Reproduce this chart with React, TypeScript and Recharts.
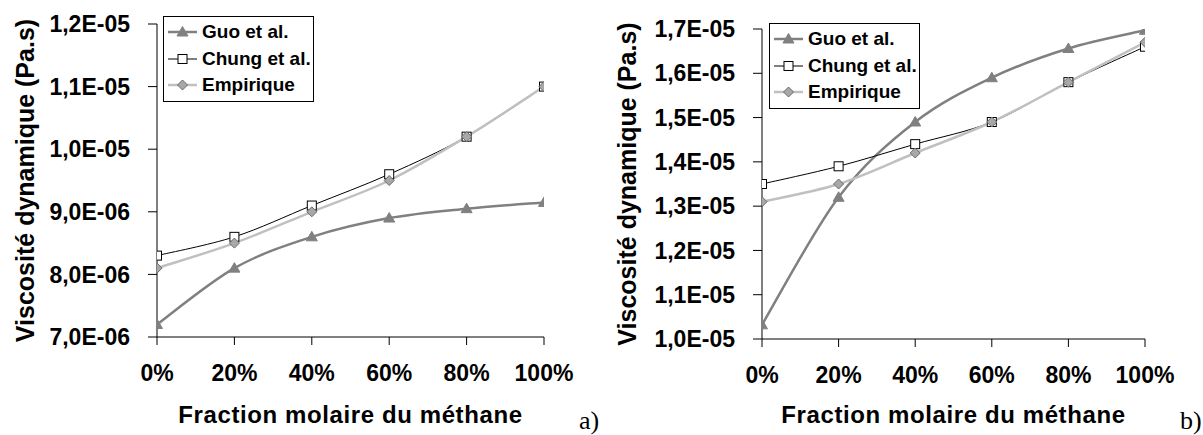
import React from "react";
import { LineChart, Line, XAxis, YAxis, Legend, Label } from "recharts";

// fraction molaire du méthane (%)
const fractions = [0, 20, 40, 60, 80, 100];

// a)
const guoA = [7.2e-6, 8.1e-6, 8.6e-6, 8.9e-6, 9.05e-6, 9.15e-6];
const chungA = [8.3e-6, 8.6e-6, 9.1e-6, 9.6e-6, 1.02e-5, 1.1e-5];
const empA = [8.1e-6, 8.5e-6, 9.0e-6, 9.5e-6, 1.02e-5, 1.1e-5];
const yTicksA = [7e-6, 8e-6, 9e-6, 1e-5, 1.1e-5, 1.2e-5];

// b)
const guoB = [1.032e-5, 1.32e-5, 1.49e-5, 1.59e-5, 1.656e-5, 1.697e-5];
const chungB = [1.35e-5, 1.39e-5, 1.44e-5, 1.49e-5, 1.58e-5, 1.66e-5];
const empB = [1.31e-5, 1.35e-5, 1.42e-5, 1.49e-5, 1.58e-5, 1.67e-5];
const yTicksB = [1e-5, 1.1e-5, 1.2e-5, 1.3e-5, 1.4e-5, 1.5e-5, 1.6e-5, 1.7e-5];

const FONT = "'Liberation Sans', Arial, sans-serif";

const fmtSci = (v: number) => {
  const [m, e] = v.toExponential(1).split("e");
  const exp = parseInt(e, 10);
  return `${m.replace(".", ",")}E${exp < 0 ? "-" : "+"}${String(Math.abs(exp)).padStart(2, "0")}`;
};

// Excel-like smoothed line (catmull-rom / cardinal, tension 0)
const excelSmooth = (context: any) => {
  let pts: number[][] = [];
  return {
    areaStart() {},
    areaEnd() {},
    lineStart() {
      pts = [];
    },
    point(x: number, y: number) {
      pts.push([+x, +y]);
    },
    lineEnd() {
      const n = pts.length;
      if (!n) return;
      context.moveTo(pts[0][0], pts[0][1]);
      for (let i = 0; i < n - 1; i++) {
        const p0 = pts[i - 1] || pts[i];
        const p1 = pts[i];
        const p2 = pts[i + 1];
        const p3 = pts[i + 2] || p2;
        context.bezierCurveTo(
          p1[0] + (p2[0] - p0[0]) / 6,
          p1[1] + (p2[1] - p0[1]) / 6,
          p2[0] - (p3[0] - p1[0]) / 6,
          p2[1] - (p3[1] - p1[1]) / 6,
          p2[0],
          p2[1]
        );
      }
    },
  };
};

type Marker = "triangle" | "square" | "diamond";

const series: { key: string; name: string; stroke: string; width: number; marker: Marker }[] = [
  { key: "guo", name: "Guo et al.", stroke: "#808080", width: 2.5, marker: "triangle" },
  { key: "chung", name: "Chung et al.", stroke: "#000000", width: 1, marker: "square" },
  { key: "emp", name: "Empirique", stroke: "#c0c0c0", width: 2.5, marker: "diamond" },
];

const drawMarker = (marker: Marker, cx: number, cy: number, key?: any) => {
  if (marker === "triangle") {
    return (
      <polygon
        key={key}
        points={`${cx},${cy - 5.5} ${cx + 5.5},${cy + 4} ${cx - 5.5},${cy + 4}`}
        fill="#808080"
        stroke="#808080"
      />
    );
  }
  if (marker === "square") {
    return <rect key={key} x={cx - 4.5} y={cy - 4.5} width={9} height={9} fill="#fff" stroke="#000" strokeWidth={1} />;
  }
  return (
    <polygon
      key={key}
      points={`${cx},${cy - 5} ${cx + 5},${cy} ${cx},${cy + 5} ${cx - 5},${cy}`}
      fill="#a8a8a8"
      stroke="#6a6a6a"
      strokeWidth={1}
    />
  );
};

// legend keeps the series order (Guo, Chung, Empirique)
const LegendBox = () => (
  <div
    style={{
      border: "1px solid #000",
      background: "#fff",
      padding: "2px 3px 2px 4px",
      fontFamily: FONT,
      fontWeight: "bold",
      fontSize: 19,
      width: 142,
      textAlign: "left",
    }}
  >
    {series.map((s) => (
      <div key={s.key} style={{ display: "flex", alignItems: "center", height: 26.5 }}>
        <svg width={29} height={14} style={{ marginRight: 5, flexShrink: 0 }}>
          <line x1={0} y1={7} x2={29} y2={7} stroke={s.stroke} strokeWidth={s.width} />
          {drawMarker(s.marker, 14.5, 7)}
        </svg>
        <span style={{ color: "#000", whiteSpace: "nowrap" }}>{s.name}</span>
      </div>
    ))}
  </div>
);

type PanelProps = {
  guo: number[];
  chung: number[];
  emp: number[];
  yTicks: number[];
  width: number;
  yAxisWidth: number;
  top: number;
  right: number;
  xAxisHeight: number;
  legendPos: { left: number; top: number };
  titleX: number;
};

const Panel = (p: PanelProps) => {
  const data = fractions.map((x, i) => ({ x, guo: p.guo[i], chung: p.chung[i], emp: p.emp[i] }));
  const tickStyle = { fontFamily: FONT, fontWeight: "bold", fontSize: 23, fill: "#000" } as any;
  return (
    <LineChart
      width={p.width}
      height={435}
      data={data}
      margin={{ top: p.top, right: p.right, bottom: 0, left: 0 }}
    >
      <XAxis
        dataKey="x"
        type="number"
        domain={[0, 100]}
        ticks={fractions}
        tickFormatter={(v: number) => `${v}%`}
        height={p.xAxisHeight}
        stroke="#000"
        tickSize={8}
        tickMargin={20}
        tick={tickStyle}
        allowDataOverflow
      >
        <Label
          value="Fraction molaire du méthane"
          position="insideBottom"
          offset={12}
          style={{ fontFamily: FONT, fontWeight: "bold", fontSize: 24, fill: "#000", letterSpacing: 0.6 }}
        />
      </XAxis>
      <YAxis
        type="number"
        domain={[p.yTicks[0], p.yTicks[p.yTicks.length - 1]]}
        ticks={p.yTicks}
        tickFormatter={fmtSci}
        width={p.yAxisWidth}
        stroke="#000"
        tickSize={9}
        tickMargin={18}
        tick={tickStyle}
        interval={0}
        allowDataOverflow
      >
        <Label
          value="Viscosité dynamique (Pa.s)"
          angle={-90}
          position="insideLeft"
          offset={p.titleX}
          style={{ textAnchor: "middle", fontFamily: FONT, fontWeight: "bold", fontSize: 25, fill: "#000" }}
        />
      </YAxis>
      <Legend
        layout="vertical"
        align="center"
        verticalAlign="middle"
        content={<LegendBox />}
        wrapperStyle={{ left: p.legendPos.left, top: p.legendPos.top, width: "auto", height: "auto" }}
      />
      {series.map((s) => (
        <Line
          key={s.key}
          dataKey={s.key}
          name={s.name}
          type={excelSmooth as any}
          stroke={s.stroke}
          strokeWidth={s.width}
          isAnimationActive={false}
          dot={(d: any) => drawMarker(s.marker, d.cx, d.cy, `${s.key}-${d.index}`)}
          activeDot={false}
        />
      ))}
    </LineChart>
  );
};

export default function App() {
  return (
    <div style={{ position: "absolute", left: 0, top: 0, width: 1203, height: 435, background: "#fff" }}>
      <div style={{ position: "absolute", left: 0, top: 0 }}>
        <Panel
          guo={guoA}
          chung={chungA}
          emp={empA}
          yTicks={yTicksA}
          width={600}
          yAxisWidth={157}
          top={24}
          right={56}
          xAxisHeight={98}
          legendPos={{ left: 163, top: 16 }}
          titleX={25}
        />
      </div>
      <div style={{ position: "absolute", left: 600, top: 0 }}>
        <Panel
          guo={guoB}
          chung={chungB}
          emp={empB}
          yTicks={yTicksB}
          width={603}
          yAxisWidth={162}
          top={29}
          right={58}
          xAxisHeight={96}
          legendPos={{ left: 169, top: 23 }}
          titleX={27}
        />
      </div>
      <span style={{ position: "absolute", left: 579, top: 406, fontFamily: "'Liberation Serif', serif", fontSize: 26 }}>
        a)
      </span>
      <span style={{ position: "absolute", left: 1180, top: 406, fontFamily: "'Liberation Serif', serif", fontSize: 26 }}>
        b)
      </span>
    </div>
  );
}
